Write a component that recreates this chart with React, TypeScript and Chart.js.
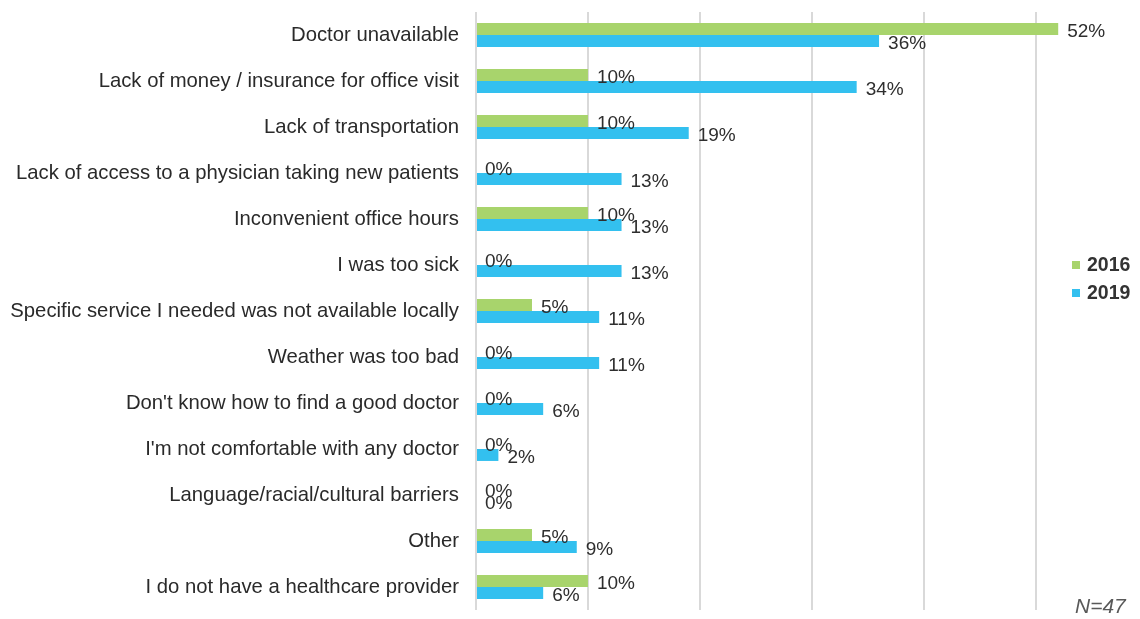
import React, { useEffect, useRef } from "react";
import { Chart, registerables } from "chart.js";

Chart.register(...registerables);

const categories = [
  "Doctor unavailable",
  "Lack of money / insurance for office visit",
  "Lack of transportation",
  "Lack of access to a physician taking new patients",
  "Inconvenient office hours",
  "I was too sick",
  "Specific service I needed was not available locally",
  "Weather was too bad",
  "Don't know how to find a good doctor",
  "I'm not comfortable with any doctor",
  "Language/racial/cultural barriers",
  "Other",
  "I do not have a healthcare provider",
];

const values2016 = [52, 10, 10, 0, 10, 0, 5, 0, 0, 0, 0, 5, 10];
const values2019 = [36, 34, 19, 13, 13, 13, 11, 11, 6, 2, 0, 9, 6];
const seriesNames = ["2016", "2019"];
const gridTicks = [0, 10, 20, 30, 40, 50];
const sampleNote = "N=47";

const GREEN = "#a8d46c";
const BLUE = "#33c0ef";
const FONT = "'Liberation Sans', Arial, sans-serif";

const overlayPlugin = {
  id: "overlay",
  afterDatasetsDraw(chart: any) {
    const ctx = chart.ctx;
    ctx.save();
    ctx.font = `19px ${FONT}`;
    ctx.fillStyle = "#2e2e2e";
    ctx.textAlign = "left";
    ctx.textBaseline = "middle";
    chart.data.datasets.forEach((ds: any, di: number) => {
      const meta = chart.getDatasetMeta(di);
      meta.data.forEach((el: any, i: number) => {
        ctx.fillText(`${ds.data[i]}%`, el.x + 9, el.y + 2.5);
      });
    });
    // legend
    const colors = [GREEN, BLUE];
    const lx = 1072;
    const ys = [265, 293];
    ctx.font = `bold 19.5px ${FONT}`;
    seriesNames.forEach((name, i) => {
      ctx.fillStyle = colors[i];
      ctx.fillRect(lx, ys[i] - 4, 8, 8);
      ctx.fillStyle = "#333333";
      ctx.fillText(name, lx + 15, ys[i] + 1);
    });
    // note
    ctx.font = `italic 21px ${FONT}`;
    ctx.fillStyle = "#595959";
    ctx.fillText(sampleNote, lx + 3, 607);
    ctx.restore();
  },
};

export default function App() {
  const ref = useRef<HTMLCanvasElement>(null);
  useEffect(() => {
    if (!ref.current) return;
    const chart = new Chart(ref.current, {
      type: "bar",
      data: {
        labels: categories,
        datasets: [
          {
            label: seriesNames[0],
            data: values2016,
            backgroundColor: GREEN,
            categoryPercentage: 0.52,
            barPercentage: 1,
          },
          {
            label: seriesNames[1],
            data: values2019,
            backgroundColor: BLUE,
            categoryPercentage: 0.52,
            barPercentage: 1,
          },
        ],
      },
      options: {
        indexAxis: "y",
        responsive: false,
        animation: false,
        layout: { padding: { left: 0, top: 12, bottom: 9, right: 65 } },
        plugins: {
          legend: { display: false },
          tooltip: { enabled: false },
        },
        scales: {
          x: {
            min: 0,
            max: 53.5,
            afterBuildTicks: (s: any) => {
              s.ticks = gridTicks.map((v) => ({ value: v }));
            },
            afterFit: (s: any) => {
              s.height = 0;
              s.paddingLeft = 0;
              s.paddingRight = 0;
              s.paddingTop = 0;
              s.paddingBottom = 0;
            },
            ticks: { display: false },
            grid: { color: "#d9d9d9", lineWidth: 2, drawTicks: false },
            border: { display: false },
          },
          y: {
            afterFit: (s: any) => {
              s.width = 476;
              s.paddingLeft = 0;
              s.paddingRight = 0;
              s.paddingTop = 0;
              s.paddingBottom = 0;
            },
            ticks: {
              padding: 17,
              color: "#2a2a2a",
              font: { family: FONT, size: 20.3 },
              autoSkip: false,
            },
            grid: { display: false, drawTicks: false },
            border: { display: false },
          },
        },
      },
      plugins: [overlayPlugin],
    } as any);
    return () => chart.destroy();
  }, []);
  return (
    <div style={{ position: "fixed", left: 0, top: 0, width: 1140, height: 619, background: "#fff" }}>
      <canvas ref={ref} width={1140} height={619} />
    </div>
  );
}
